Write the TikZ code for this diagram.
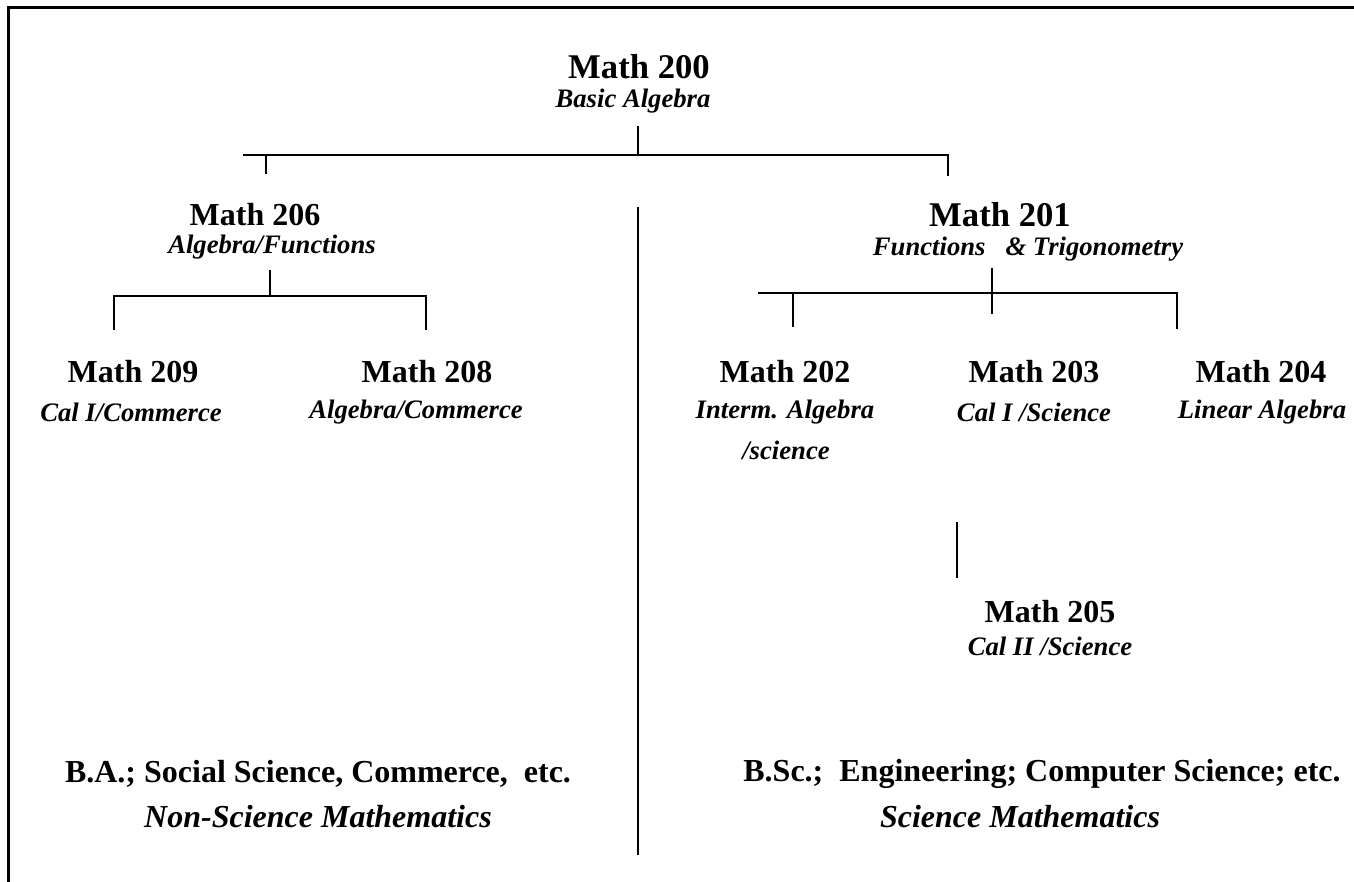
\documentclass[tikz,border=0pt]{standalone}
\usepackage{fontspec}
\setmainfont{Liberation Serif}
\usetikzlibrary{positioning}

\tikzset{
  course/.style={font=\fontsize{24}{28}\selectfont\bfseries, inner sep=0pt},
  bigcourse/.style={course, font=\fontsize{26}{30}\selectfont\bfseries},
  topic/.style={font=\fontsize{20}{24}\selectfont\bfseries\itshape, inner sep=0pt},
  track/.style={font=\fontsize{24}{28}\selectfont\bfseries, inner sep=0pt},
  tracksub/.style={font=\fontsize{24}{28}\selectfont\bfseries\itshape, inner sep=0pt},
  link/.style={line width=1.5pt},
  frame/.style={line width=2.25pt}
}

\begin{document}
\begin{tikzpicture}[x=0.75pt,y=-0.75pt]
\useasboundingbox (0,0) rectangle (1354,882);

% Marco
\draw[frame] (1354,7.5) -- (8.5,7.5) -- (8.5,882);

% Math 200
\node[bigcourse] (m200) at (639,67) {Math 200};
\node[topic] (t200) at (633,101) {Basic Algebra};

% Rama principal
\coordinate (a0) at (638,126);
\coordinate (a1) at (638,155);
\coordinate (aL) at (243,155);
\coordinate (aR) at (948,155);
\coordinate (aLt) at (266,155);
\coordinate (aLb) at (266,174);
\coordinate (aRb) at (948,176);
\draw[link] (a0) -- (a1);
\draw[link] (aL) -- (aR) -- (aRb);
\draw[link] (aLt) -- (aLb);

% Linea divisoria
\coordinate (d0) at (638,207);
\coordinate (d1) at (638,855);
\draw[link] (d0) -- (d1);

% Lado izquierdo: Math 206
\node[course] (m206) at (255,215) {Math 206};
\node[topic] (t206) at (272,247) {Algebra/Functions};

\coordinate (b0) at (270,270);
\coordinate (b1) at (270,296);
\coordinate (bL) at (114,296);
\coordinate (bR) at (426,296);
\coordinate (bLb) at (114,330);
\coordinate (bRb) at (426,330);
\draw[link] (b0) -- (b1);
\draw[link] (bLb) -- (bL) -- (bR) -- (bRb);

\node[course] (m209) at (133,372) {Math 209};
\node[topic] (t209) at (131,412) {Cal I/Commerce};
\node[course] (m208) at (427,372) {Math 208};
\node[topic] (t208) at (416,412) {Algebra/Commerce};

% Lado derecho: Math 201
\node[bigcourse] (m201) at (1000,215) {Math 201};
\node[topic] (t201) at (1028,249) {Functions\ \ \ \& Trigonometry};

\coordinate (c0) at (992,268);
\coordinate (c1) at (992,314);
\coordinate (cL) at (758,293);
\coordinate (cR) at (1177,293);
\coordinate (cLt) at (793,293);
\coordinate (cLb) at (793,327);
\coordinate (cRb) at (1177,329);
\draw[link] (c0) -- (c1);
\draw[link] (cL) -- (cR) -- (cRb);
\draw[link] (cLt) -- (cLb);

\node[course] (m202) at (785,372) {Math 202};
\node[topic] (t202) at (785,412) {Interm. Algebra};
\node[topic] (t202b) at (786,450) {/science};
\node[course] (m203) at (1034,372) {Math 203};
\node[topic] (t203) at (1034,412) {Cal I /Science};
\node[course] (m204) at (1261,372) {Math 204};
\node[topic] (t204) at (1262,412) {Linear Algebra};

% Math 205
\coordinate (e0) at (957,522);
\coordinate (e1) at (957,578);
\draw[link] (e0) -- (e1);
\node[course] (m205) at (1050,612) {Math 205};
\node[topic] (t205) at (1050,646) {Cal II /Science};

% Etiquetas inferiores
\node[track] (nsci) at (318,774) {B.A.; Social Science, Commerce,\ \ etc.};
\node[tracksub] (nscis) at (318,817) {Non-Science Mathematics};
\node[track] (sci) at (1042,774) {B.Sc.;\ \ Engineering; Computer Science; etc.};
\node[tracksub] (scis) at (1020,817) {Science Mathematics};
\end{tikzpicture}
\end{document}
